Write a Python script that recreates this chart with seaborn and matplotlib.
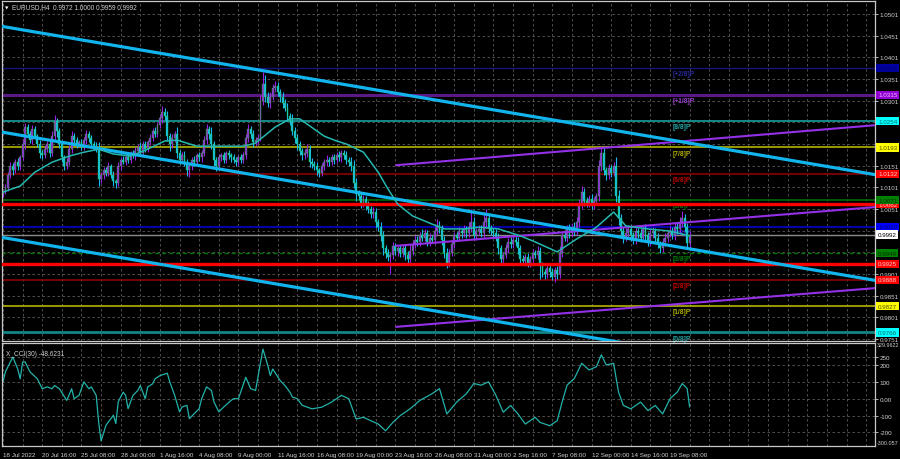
import numpy as np
import matplotlib
matplotlib.use("Agg")
import matplotlib.pyplot as plt
import matplotlib.transforms as mtransforms
import seaborn as sns

# ---------------- data (prices in 1/10000 units) ----------------
first_open = 10085
closes = [
    10090, 10100, 10130, 10150, 10140, 10160, 10150, 10170, 10200, 10240,
    10225, 10210, 10235, 10220, 10200, 10180, 10175, 10190, 10200, 10180,
    10220, 10255, 10230, 10200, 10170, 10150, 10160, 10190, 10220, 10210,
    10200, 10205, 10195, 10210, 10225, 10215, 10200, 10195, 10190, 10120,
    10130, 10140, 10135, 10150, 10130, 10115, 10110, 10150, 10165, 10160,
    10170, 10165, 10180, 10175, 10185, 10195, 10180, 10200, 10190, 10205,
    10215, 10230, 10225, 10245, 10260, 10275, 10265, 10220, 10200, 10215,
    10225, 10180, 10165, 10175, 10160, 10140, 10150, 10165, 10160, 10175,
    10170, 10180, 10210, 10235, 10225, 10200, 10165, 10150, 10170, 10175,
    10165, 10180, 10175, 10170, 10165, 10160, 10170, 10165, 10175, 10215,
    10235, 10225, 10205, 10210, 10215, 10300, 10340, 10310, 10295, 10310,
    10330, 10335, 10320, 10310, 10295, 10285, 10265, 10255, 10230, 10215,
    10200, 10185, 10175, 10180, 10190, 10160, 10155, 10150, 10140, 10135,
    10150, 10160, 10165, 10160, 10170, 10165, 10175, 10170, 10180, 10175,
    10165, 10160, 10150, 10110, 10085, 10080, 10065, 10075, 10060, 10050,
    10040, 10045, 10020, 10010, 9990, 9960, 9950, 9940, 9945, 9965,
    9955, 9960, 9950, 9960, 9945, 9935, 9955, 9970, 9980, 9975,
    9990, 9985, 9995, 9975, 9985, 9980, 10000, 10015, 10005, 9980,
    9950, 9925, 9950, 9970, 9990, 9985, 10000, 9995, 10005, 9995,
    10010, 10020, 9990, 10000, 10005, 9995, 10020, 10030, 10005, 10000,
    9995, 9985, 9960, 9935, 9945, 9960, 9975, 9970, 9980, 9975,
    9960, 9935, 9930, 9940, 9925, 9935, 9950, 9945, 9955, 9920,
    9905, 9900, 9915, 9905, 9895, 9910, 9900, 9950, 9990, 9985,
    10005, 9995, 10010, 10000, 10020, 10060, 10090, 10070, 10065, 10075,
    10060, 10070, 10080, 10150, 10180, 10140, 10130, 10145, 10135, 10150,
    10080, 10030, 10000, 9985, 9995, 10005, 9990, 9980, 10000, 9995,
    9985, 10005, 9990, 9975, 9995, 10000, 9985, 9970, 9960, 9975,
    9985, 9995, 10000, 9990, 10010, 10005, 10020, 10030, 10010, 9972,
    9992,
]
upper_wick = [
    5, 8, 6, 10, 7, 6, 9, 5, 12, 10,
    8, 6, 9, 7, 5, 10, 6, 8, 7, 9,
    10, 13, 6, 8, 7, 5, 9, 8, 10, 6,
    7, 5, 8, 6, 9, 7, 6, 8, 10, 15,
    6, 8, 7, 9, 5, 8, 6, 10, 7, 8,
    6, 9, 5, 7, 8, 6, 10, 7, 9, 6,
    8, 7, 10, 6, 9, 13, 8, 12, 7, 9,
    6, 15, 8, 7, 10, 6, 8, 7, 9, 6,
    8, 7, 10, 12, 8, 15, 9, 7, 8, 6,
    7, 5, 8, 6, 9, 7, 6, 8, 7, 10,
    12, 8, 9, 6, 10, 15, 28, 20, 12, 10,
    9, 11, 10, 8, 12, 9, 10, 8, 15, 10,
    8, 9, 7, 10, 12, 8, 9, 7, 10, 6,
    8, 7, 10, 6, 9, 7, 8, 10, 6, 8,
    9, 7, 10, 15, 12, 9, 10, 8, 7, 9,
    8, 10, 9, 7, 12, 10, 8, 9, 7, 10,
    8, 6, 9, 7, 10, 8, 12, 9, 10, 8,
    7, 15, 9, 8, 10, 7, 9, 12, 8, 10,
    9, 12, 8, 10, 9, 7, 10, 8, 9, 7,
    10, 30, 12, 8, 10, 9, 25, 20, 10, 8,
    7, 9, 10, 8, 7, 10, 9, 12, 8, 10,
    12, 8, 9, 7, 10, 8, 9, 7, 10, 8,
    9, 8, 10, 7, 9, 8, 10, 15, 10, 12,
    10, 12, 9, 10, 12, 15, 14, 10, 8, 9,
    10, 8, 9, 15, 17, 12, 9, 10, 8, 10,
    20, 15, 10, 9, 12, 8, 10, 9, 12, 8,
    10, 9, 12, 8, 10, 9, 8, 10, 7, 9,
    10, 8, 12, 9, 10, 8, 12, 16, 10, 9,
    8,
]
lower_wick = [
    6, 5, 8, 7, 10, 6, 8, 9, 7, 10,
    9, 7, 10, 8, 6, 12, 9, 7, 8, 10,
    7, 9, 12, 8, 10, 9, 7, 8, 9, 10,
    8, 6, 9, 7, 8, 10, 7, 9, 8, 16,
    8, 10, 7, 9, 8, 10, 10, 7, 9, 6,
    8, 7, 9, 6, 10, 8, 7, 9, 8, 7,
    6, 8, 9, 7, 8, 10, 9, 12, 15, 8,
    9, 12, 10, 8, 9, 12, 15, 8, 9, 7,
    8, 10, 7, 9, 12, 10, 14, 12, 8, 9,
    7, 9, 8, 10, 7, 9, 8, 7, 9, 8,
    9, 10, 12, 8, 9, 7, 10, 12, 9, 10,
    8, 10, 9, 12, 10, 9, 12, 10, 9, 11,
    12, 10, 11, 9, 8, 12, 10, 9, 10, 10,
    9, 8, 10, 9, 7, 10, 8, 9, 10, 8,
    10, 9, 12, 10, 15, 9, 12, 10, 12, 9,
    10, 9, 12, 10, 12, 15, 12, 10, 39, 9,
    10, 12, 9, 10, 12, 10, 9, 10, 8, 9,
    10, 9, 8, 10, 9, 8, 10, 9, 10, 12,
    12, 10, 9, 8, 10, 9, 8, 10, 9, 10,
    8, 12, 9, 10, 8, 9, 10, 12, 9, 10,
    10, 9, 12, 10, 9, 8, 10, 9, 8, 9,
    12, 10, 9, 10, 8, 9, 10, 8, 9, 30,
    12, 10, 9, 10, 8, 12, 10, 8, 10, 9,
    10, 12, 9, 10, 8, 10, 9, 12, 10, 9,
    10, 9, 8, 10, 12, 10, 12, 9, 10, 9,
    12, 15, 10, 12, 9, 10, 12, 10, 9, 10,
    10, 9, 12, 10, 9, 10, 12, 10, 10, 9,
    9, 10, 8, 9, 10, 12, 9, 10, 12, 13,
    13,
]

ma_bars = [0, 7, 13, 20, 27, 33, 39, 45, 52, 59, 66, 71, 79, 88, 98, 103, 106, 111, 117, 121,
           125, 131, 136, 140, 147, 153, 157, 161, 167, 175, 180, 188, 194, 202, 211, 217, 226,
           234, 242, 249, 254, 263, 272, 280]
ma_vals = [10090, 10104, 10136, 10159, 10173, 10182, 10189, 10178, 10173, 10189, 10208, 10210,
           10196, 10196, 10196, 10203, 10217, 10240, 10259, 10259, 10243, 10219, 10208, 10201,
           10182, 10136, 10097, 10062, 10035, 10016, 10005, 10005, 10009, 10005, 9989, 9975,
           9952, 9982, 10009, 10044, 10012, 10005, 10000, 9989]

cci_bars = [0, 1, 4, 6, 7, 8, 9, 11, 14, 16, 18, 20, 21, 23, 26, 28, 29, 31, 33, 35, 36, 38, 39,
            40, 42, 44, 45, 46, 47, 49, 50, 51, 53, 55, 56, 58, 59, 61, 62, 64, 67, 68, 70, 72,
            73, 75, 76, 78, 80, 81, 83, 85, 86, 88, 90, 93, 94, 96, 99, 101, 103, 106, 108, 109,
            110, 113, 115, 117, 118, 120, 122, 126, 130, 134, 138, 141, 144, 147, 150, 153, 156,
            159, 162, 166, 170, 175, 178, 181, 185, 189, 192, 195, 198, 201, 204, 207, 210, 213,
            217, 219, 223, 226, 228, 230, 233, 236, 239, 242, 244, 246, 249, 251, 253, 256, 260,
            263, 266, 269, 272, 275, 277, 279, 280]
cci_vals = [100, 160, 247, 176, 118, 218, 218, 159, 118, 59, 70, 59, 78, 59, -10, 59, 0, 20, 100,
            59, 70, 20, -137, -250, -157, -118, -98, -147, -18, 39, 20, -59, 20, 49, 78, 0, 70,
            88, 118, 137, 151, 100, 20, -78, -49, -39, -118, -88, -59, 0, 70, 49, -18, -78, -49,
            -10, 0, 0, 127, 59, 49, 294, 196, 137, 176, 108, 78, 39, 10, 0, -39, -60, -50, -20,
            20, 0, -120, -110, -130, -150, -190, -140, -100, -60, -10, 30, 60, -90, -20, 30, 90,
            80, 100, 20, -80, -40, -90, -150, -110, -140, -160, -130, -20, 80, 120, 210, 170,
            190, 260, 200, 210, 40, -40, -60, -20, -70, -40, -90, 0, 40, 90, 60, -48.6231]

murrey_names = ["[+2/8]P", "[+1/8]P", "[8/8]P", "[7/8]P", "[6/8]P", "[5/8]P", "[4/8]P",
                "[3/8]P", "[2/8]P", "[1/8]P", "[0/8]P"]
murrey_levels = [1.0376, 1.0315, 1.0254, 1.0193, 1.0132, 1.0071, 1.0010, 0.9949, 0.9888,
                 0.9827, 0.9766]
red_levels = [1.0062, 0.9925]
last_price = 0.9992

# trend / channel lines: (bar0, price0, bar1, price1)
channel_lines = [(-1, 1.0473, 357, 1.0129), (-1, 1.0229, 357, 0.9885), (-1, 0.9986, 357, 0.9642)]
purple_lines = [(160.3, 1.0152, 357, 1.0245), (160.3, 0.9966, 357, 1.0056),
                (160.3, 0.9779, 357, 0.9869)]

box_levels = [1.0376, 1.0315, 1.0254, 1.0193, 1.0132, 1.0062, 1.0071, 1.0010, 0.9992, 0.9949,
              0.9925, 0.9888, 0.9827, 0.9766]

# axis price labels that stay visible (the others sit under the coloured boxes)
price_ticks = [1.0501, 1.0451, 1.0401, 1.0351, 1.0301, 1.0251, 1.0201, 1.0151, 1.0101, 1.0051,
               1.0001, 0.9951, 0.9901, 0.9851, 0.9801, 0.9751]
hidden_ticks = [1.0251, 1.0201, 1.0001, 0.9951]

x_labels = ["18 Jul 2022", "20 Jul 16:00", "25 Jul 08:00", "28 Jul 00:00", "1 Aug 16:00",
            "4 Aug 08:00", "9 Aug 00:00", "11 Aug 16:00", "16 Aug 08:00", "19 Aug 00:00",
            "23 Aug 16:00", "26 Aug 08:00", "31 Aug 00:00", "2 Sep 16:00", "7 Sep 08:00",
            "12 Sep 00:00", "14 Sep 16:00", "19 Sep 08:00"]

# ---------------- styling ----------------
sns.set_theme(style="dark")
plt.rcParams['font.family'] = ['Liberation Sans', 'DejaVu Sans']
plt.rcParams['axes.facecolor'] = 'black'
plt.rcParams['figure.facecolor'] = 'black'

FS = 4.5
TXT = '#d0d0d0'
GRID = '#5a5a5a'
BULL = '#9a1fe6'
BEAR = '#18b8f4'
murrey_colors = ['#14147a', '#5a1a86', '#18a0a0', '#b4b400', '#8b0000', '#006a00', '#0000d0',
                 '#007000', '#8b0000', '#b4b400', '#138585']
murrey_lw = [1.0, 2.2, 1.2, 1.2, 1.2, 1.2, 1.2, 1.0, 1.2, 1.2, 2.0]
murrey_ls = ['-', '-', '-', '-', '-', '-', '-', (0, (3, 2)), '-', '-', '-']
murrey_text_colors = ['#2a2aa0', '#9a40d0', '#20a8a8', '#b0b000', '#c00000', '#008000',
                      '#1a1ad0', '#008000', '#c00000', '#b0b000', '#20a0a0']
box_fc = ['#0000a0', '#9400d3', '#00ffff', '#ffff00', '#ff0000', '#ff0000', '#008000',
          '#0000ff', '#ffffff', '#008000', '#ff0000', '#ff0000', '#ffff00', '#00ffff']
box_tc = ['#000060', '#e8c0ff', '#006868', '#505000', '#ffd0d0', '#ffd0d0', '#003000',
          '#000070', '#000000', '#003000', '#ffd0d0', '#ffd0d0', '#505000', '#006868']

W, H = 900, 460
fig = plt.figure(figsize=(9, 4.6), dpi=100)
ax = fig.add_axes([2 / W, 1 - 342 / H, 873 / W, 340 / H])
ax2 = fig.add_axes([2 / W, 1 - 447 / H, 873 / W, 103 / H])

n = min(len(closes), len(upper_wick), len(lower_wick))
idx = np.arange(n)
c = np.array(closes[:n], float) / 1e4
o = np.concatenate([[first_open], closes[:n - 1]]).astype(float) / 1e4
hi = np.maximum(o, c) + np.array(upper_wick[:n]) / 1e4
lo = np.minimum(o, c) - np.array(lower_wick[:n]) / 1e4
up = c >= o
cols = np.where(up, BULL, BEAR)

xmin, xmax = -0.41, 355.6
for a in (ax, ax2):
    a.set_facecolor('black')
    a.set_xlim(xmin, xmax)
    for s in a.spines.values():
        s.set_color('#c8c8c8')
        s.set_linewidth(0.9)
    a.set_axisbelow(True)

ax.set_ylim(0.974635, 1.0531)

# grid
ticks8 = np.arange(0, 360, 8)
for a in (ax, ax2):
    a.set_xticks(ticks8)
    a.grid(True, color=GRID, linestyle=(0, (3, 3)), linewidth=0.6)

ax.set_yticks(price_ticks)
ax.set_yticklabels(['' if p in hidden_ticks else f"{p:.4f}" for p in price_ticks])
ax.yaxis.tick_right()
ax.tick_params(axis='y', colors=TXT, labelsize=FS, length=2.5, width=0.6, pad=1, direction='out')
ax.tick_params(axis='x', length=0, labelbottom=False)

# murrey lines and labels
for lvl, col, lw, ls, name, tc in zip(murrey_levels, murrey_colors, murrey_lw, murrey_ls,
                                      murrey_names, murrey_text_colors):
    ax.axhline(lvl, color=col, lw=lw, ls=ls, zorder=1)
    ax.annotate(name, xy=(273.2, lvl), xytext=(0, -1.5), textcoords='offset points',
                ha='left', va='top', fontsize=4.8, color=tc, fontweight='bold', zorder=1.5)
ax.axhline(last_price, color='#8a8a8a', lw=1.0, zorder=1)

# candles
ax.vlines(idx, lo, hi, colors=cols, linewidth=0.8, zorder=2)
body = np.where(np.abs(c - o) < 1e-6, 0.00004, c - o)
ax.bar(idx, body, bottom=o, width=0.78, color=cols, edgecolor='#20e020', linewidth=0.25,
       zorder=2.1)

# red support / resistance
for lvl in red_levels:
    ax.axhline(lvl, color='#ff0000', lw=2.4, zorder=3)

# channel lines
for b0, p0, b1, p1 in channel_lines:
    ax.plot([b0, b1], [p0, p1], color='#12b4ee', lw=2.3, zorder=3.2, solid_capstyle='butt')
for b0, p0, b1, p1 in purple_lines:
    ax.plot([b0, b1], [p0, p1], color='#9430e8', lw=1.5, zorder=3.1)

# moving average
sns.lineplot(x=np.array(ma_bars), y=np.array(ma_vals) / 1e4, ax=ax, color='#25b8b0',
             linewidth=1.1, sort=False, estimator=None, zorder=4)
ax.set_xlabel('')
ax.set_ylabel('')
ax.set_xlim(xmin, xmax)

# price boxes on the right axis
trans = mtransforms.blended_transform_factory(ax.transAxes, ax.transData)
for lvl, fc, tc in zip(box_levels, box_fc, box_tc):
    ax.text(1.0 + 3 / 873, lvl, f"{lvl:.4f}", transform=trans, ha='left', va='center',
            fontsize=FS, color=tc, clip_on=False, zorder=6,
            bbox=dict(boxstyle='square,pad=0.25', fc=fc, ec='none'))

# title
fig.text(5 / W, 1 - 8 / H, "\u25BC", fontsize=3.2, color='white', va='center', ha='left',
         family='DejaVu Sans')
fig.text(12 / W, 1 - 8 / H, "EURUSD,H4  0.9972 1.0000 0.9959 0.9992", fontsize=4.7,
         color=TXT, va='center', ha='left')

# ---------------- CCI panel ----------------
sns.lineplot(x=np.array(cci_bars), y=np.array(cci_vals), ax=ax2, color='#22b2aa',
             linewidth=0.9, sort=False, estimator=None)
ax2.set_xlabel('')
ax2.set_ylabel('')
ax2.set_xlim(xmin, xmax)
ax2.set_ylim(-280, 330)
cci_ticks = [250, 200, 100, 0, -100, -200]
ax2.set_yticks(cci_ticks)
ax2.set_yticklabels(['250', '200', '100', '0.00', '-100', '-200'])
ax2.yaxis.tick_right()
ax2.tick_params(axis='y', colors=TXT, labelsize=FS, length=2.5, width=0.6, pad=1)
trans2 = mtransforms.blended_transform_factory(ax2.transAxes, ax2.transData)
ax2.text(1.0 + 2 / 873, 322, "329.9622", transform=trans2, ha='left', va='center',
         fontsize=3.9, color=TXT, clip_on=False)
ax2.text(1.0 + 2 / 873, -262, "-300.057", transform=trans2, ha='left', va='center',
         fontsize=3.9, color=TXT, clip_on=False)
ax2.text(4 / 873, 0.93, "X_CCI(30) -48.6231", transform=ax2.transAxes, ha='left', va='top',
         fontsize=4.7, color=TXT)

lbl = [x_labels[k // 2] if k % 2 == 0 and k // 2 < len(x_labels) else '' for k in range(len(ticks8))]
ax2.set_xticklabels(lbl)
ax2.tick_params(axis='x', colors=TXT, labelsize=FS, length=2.5, width=0.6, pad=1.5,
                direction='out')
for t in ax2.get_xticklabels():
    t.set_ha('left')

fig.savefig('out.png', dpi=100, facecolor='black')
